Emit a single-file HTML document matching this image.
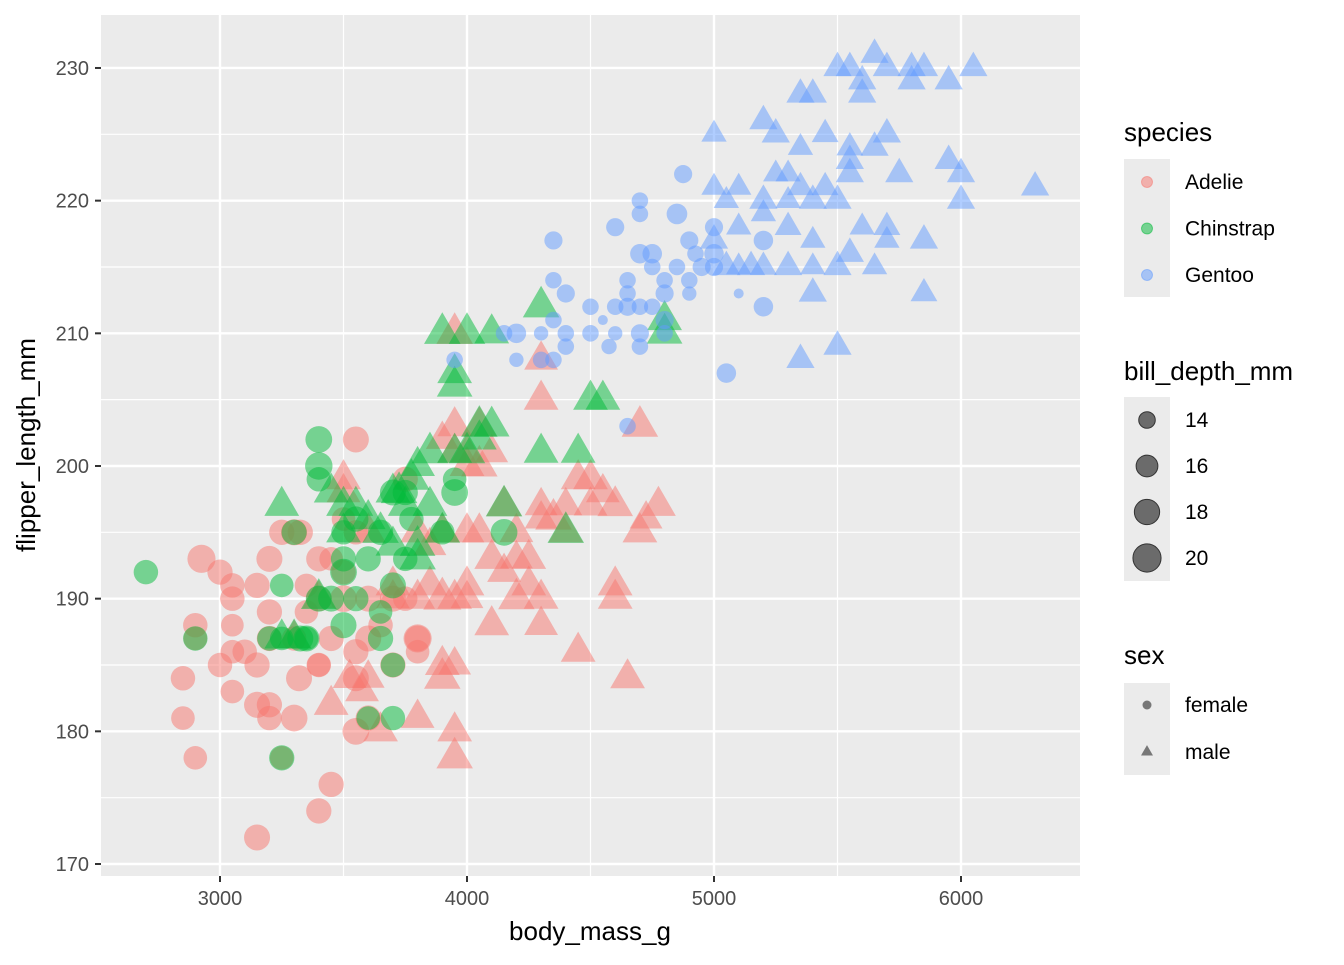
<!DOCTYPE html>
<html><head><meta charset="utf-8"><style>
body{margin:0;background:#fff;font-family:"Liberation Sans",Arial,sans-serif}
svg text{font-family:"Liberation Sans",Arial,sans-serif}
</style></head><body>
<svg id="chart" width="1344" height="960" xmlns="http://www.w3.org/2000/svg">
<rect width="1344" height="960" fill="#fff"/>
<rect x="101" y="15" width="979" height="861" fill="#ebebeb"/>
<g id="grid"></g>
<g id="pts"></g>
<g id="axes"></g>
<text x="590" y="940" font-size="26" text-anchor="middle">body_mass_g</text>
<text transform="translate(35,445) rotate(-90)" font-size="26" text-anchor="middle">flipper_length_mm</text>
<g id="legend"></g>
</svg>
<script>
const xTicks=[3000,4000,5000,6000];
const yTicks=[170,180,190,200,210,220,230];
const speciesNames=["Adelie","Chinstrap","Gentoo"];
const speciesColors=["#F8766D","#00BA38","#619CFF"];
const adelieFemale=[[3150,172,18.5],[3400,174,18],[3450,176,18],[2900,178,17],[3250,178,17],[2850,181,17],[3200,181,17.5],[3300,181,19],[2850,184,17.5],[3320,184,18.5],[3050,183,17],[3150,182,18.5],[3200,182,18],[3000,185,17.5],[3150,185,18],[3400,185,17.5],[3550,180,19],[3600,181,18],[3100,186,17.5],[3050,186,17],[3200,187,18],[3300,187,17.5],[2900,188,17.5],[3050,188,16.5],[3200,189,18],[3350,189,17],[3400,190,18],[3500,190,19],[3600,190,18.5],[3700,190,18.5],[3050,190,17.5],[3050,191,17.5],[3150,191,18],[3350,191,17],[3500,192,17.5],[3000,192,18],[2925,193,20],[3200,193,18.5],[3400,193,18],[3450,193,17],[3300,195,18.5],[3250,195,18],[3550,195,17.5],[3500,196,17],[3800,187,18.5],[3800,186,17],[3700,185,18],[3400,185,17],[3550,202,18.5],[3550,186,18],[3600,187,18.5],[3650,188,17.5],[3750,190,17.5],[3800,187,20],[3450,187,18],[3550,184,18.5],[2900,187,17],[3325,195,18],[3750,199,18]];
const adelieMale=[[3950,178,20],[3950,180,19],[3650,180,19],[3800,181,18.5],[3450,182,19],[3575,183,18.5],[3525,184,18.5],[3900,184,20],[3900,185,19],[3950,185,18],[4450,186,19],[4650,184,19],[4100,188,19],[4300,188,18.5],[4300,190,19],[4200,190,20],[4250,191,19],[4600,190,19],[4600,191,19],[3900,190,21],[3950,190,19],[3850,191,19],[4000,190,18],[3800,190,19],[3700,190,18.5],[4000,191,19],[4150,192,18.5],[4100,193,19],[4250,193,19],[4200,195,18.5],[4050,195,19],[4400,195,19],[4300,196,18],[4350,196,20],[4700,195,19],[4725,196,18],[4775,197,19],[4600,197,19.5],[4550,198,18.5],[4500,199,19],[4450,199,19],[4500,197,18.5],[4400,197,18],[4300,197,18],[4150,197,19.5],[4100,201,18],[4000,201,18],[3950,201,19],[3950,203,19],[3900,202,18],[4700,203,20],[4300,205,19],[4300,208,18.5],[4050,203,19],[3500,199,19],[3500,198,18.5],[3600,195,19],[3800,195,19],[3700,191,19],[3850,194,18],[4000,195,19],[4000,200,19],[4050,200,20],[3600,184,18],[3300,187,18],[3400,190,18],[3950,210,20],[3900,195,19],[4200,193,18]];
const chinstrapFemale=[[2700,192,17.5],[3250,178,18],[3600,181,17],[3700,181,17.5],[3250,187,17],[3350,187,17],[3200,187,17.5],[3650,187,18],[2900,187,17.5],[3700,185,17.5],[3250,191,17],[3400,190,18.5],[3450,190,18.5],[3500,188,18.5],[3550,190,18],[3650,189,17],[3500,192,19],[3600,193,18],[3650,195,18],[3500,195,17.5],[3400,199,17.5],[3400,200,19.5],[3400,202,19],[3700,198,18.5],[3750,198,18],[3775,196,17.5],[3700,191,18.5],[3300,195,18],[3325,187,18.5],[3350,187,18.5],[3950,199,17],[3950,198,19],[3900,195,17.5],[3550,196,18],[4150,195,19],[3500,193,18],[3750,193,17.5]];
const chinstrapMale=[[3250,197,19],[3300,187,19],[3400,190,19.5],[3450,198,19],[3550,197,19],[3500,195,19],[3650,195,20],[3700,194,19],[3725,198,20],[3750,197,19],[3775,199,20],[3800,193,20],[3800,194,19.5],[3850,201,20],[3900,195,19.5],[3900,210,20],[3950,207,19],[3950,206,19.5],[4000,210,20],[4050,203,20],[4050,202,19],[4100,210,19],[4100,203,19.5],[4150,197,20],[4300,212,20],[4300,201,19],[4400,195,20],[4450,201,19],[4500,205,19],[4550,205,19],[4800,210,19.5],[4800,211,19],[3800,200,19],[3600,196,19],[3700,198,19],[3250,187,19],[4000,201,20],[3950,201,19],[3850,197,19],[3500,197,19]];
const gentooFemale=[[4650,203,14],[3950,208,14],[4300,208,14],[4350,208,14],[4200,210,15],[4150,210,14],[4200,208,13.5],[4300,210,13.5],[4400,210,14],[4500,210,14],[4575,209,13.7],[4600,210,13.5],[4700,210,14.5],[4800,210,14],[4350,211,14],[4550,211,13.1],[4500,212,14],[4400,213,14.5],[4600,212,14],[4650,212,14.5],[4700,212,14],[4750,212,14],[4800,211,14.5],[4350,214,14],[4350,217,14.5],[4650,214,14],[4800,213,14.5],[4750,215,14],[4850,215,14],[4900,214,14],[4900,213,13.5],[4950,215,14.5],[5000,215,14.5],[5000,216,15],[5100,213,13],[5200,212,15],[5200,217,15],[4700,216,15],[4750,216,15],[4850,219,15.5],[5000,218,14.5],[4600,218,14.5],[4700,219,14],[4700,220,14],[4875,222,14.5],[4900,217,14.5],[4925,216,14],[4800,214,14],[4650,213,14],[5050,207,15],[4400,209,14],[4700,209,14]];
const gentooMale=[[5350,208,16],[5500,209,16],[5850,213,15.5],[5400,213,16],[5050,215,16],[5100,215,15],[5150,215,16],[5300,215,16],[5400,215,15],[5500,215,16],[5650,215,15],[5550,216,16],[5700,218,15.5],[5850,217,16],[6000,220,16],[6000,222,16],[5950,223,16],[5750,222,16],[5500,220,16],[5400,220,16],[5350,221,15.5],[5250,222,15],[5300,222,15],[5100,221,15],[5000,221,15],[5050,220,15],[5200,220,16],[5300,220,15],[5300,218,15.5],[5200,219,15],[5100,218,15],[5450,221,15.5],[5550,222,16],[5550,223,16],[5550,224,15.5],[5650,224,16],[5700,225,16],[5450,225,15.5],[5350,224,15],[5250,225,16],[5200,226,16],[5000,225,15],[5400,228,16],[5350,228,16],[5600,228,16],[5600,229,16],[5550,230,16],[5500,230,16],[5650,231,16],[5700,230,16],[5800,230,16],[5850,230,16],[5950,229,16],[6050,230,16],[5800,229,16],[6300,221,16],[5700,217,15],[5400,217,15],[5600,218,15],[5000,217,16],[5200,215,15.5]];
const sizeBreaks=[14,16,18,20];

const NS="http://www.w3.org/2000/svg";
function X(v){return 220+(v-3000)*0.247;}
function Y(v){return 864-(v-170)*13.267;}
function R(d){return 5+10*Math.sqrt(Math.max(0,d-13.1)/8.4);}
function mk(tag,attrs,parent){const e=document.createElementNS(NS,tag);for(const k in attrs)e.setAttribute(k,attrs[k]);parent.appendChild(e);return e;}
const grid=document.getElementById('grid'),axes=document.getElementById('axes'),pts=document.getElementById('pts'),leg=document.getElementById('legend');
[2500,3500,4500,5500].forEach(v=>{const l=mk('line',{x1:X(v),x2:X(v),y1:15,y2:876,stroke:'#fff','stroke-width':1.2},grid);});
[175,185,195,205,215,225].forEach(v=>{const l=mk('line',{x1:101,x2:1080,y1:Y(v),y2:Y(v),stroke:'#fff','stroke-width':1.2},grid);});
xTicks.forEach(v=>{const l=mk('line',{x1:X(v),x2:X(v),y1:15,y2:876,stroke:'#fff','stroke-width':2.4},grid);
 const t=mk('line',{x1:X(v),x2:X(v),y1:876,y2:882,stroke:'#333','stroke-width':2},axes);
 const tx=mk('text',{x:X(v),y:905,'font-size':20,fill:'#4d4d4d','text-anchor':'middle'},axes);tx.textContent=v;});
yTicks.forEach(v=>{const l=mk('line',{x1:101,x2:1080,y1:Y(v),y2:Y(v),stroke:'#fff','stroke-width':2.4},grid);
 const t=mk('line',{x1:95,x2:101,y1:Y(v),y2:Y(v),stroke:'#333','stroke-width':2},axes);
 const tx=mk('text',{x:89,y:Y(v)+7,'font-size':20,fill:'#4d4d4d','text-anchor':'end'},axes);tx.textContent=v;});
function tri(cx,cy,r){const s=r*1.5;return `${cx},${cy-s} ${cx+s*0.866},${cy+s*0.5} ${cx-s*0.866},${cy+s*0.5}`;}
function draw(arr,color,shape){arr.forEach(p=>{const cx=X(p[0]),cy=Y(p[1]),r=R(p[2]);let e;
 if(shape==='c')e=mk('circle',{cx:cx,cy:cy,r:r,fill:color,'fill-opacity':0.5},pts);
 else e=mk('polygon',{points:tri(cx,cy,r),fill:color,'fill-opacity':0.5},pts);
 });}
draw(adelieFemale,speciesColors[0],'c');draw(adelieMale,speciesColors[0],'t');
draw(chinstrapFemale,speciesColors[1],'c');draw(chinstrapMale,speciesColors[1],'t');
draw(gentooFemale,speciesColors[2],'c');draw(gentooMale,speciesColors[2],'t');
function title(txt,y){const t=mk('text',{x:1124,y:y,'font-size':26},leg);t.textContent=txt;}
function label(txt,y){const t=mk('text',{x:1185,y:y+7,'font-size':21},leg);t.textContent=txt;}
function keybg(y,h){const r=mk('rect',{x:1124,y:y,width:46,height:h,fill:'#ebebeb'},leg);}
title('species',141);keybg(159,138);
speciesNames.forEach((n,i)=>{const y=182+i*46.5;const c=mk('circle',{cx:1147,cy:y,r:5.5,fill:speciesColors[i],'fill-opacity':0.5,stroke:speciesColors[i],'stroke-opacity':0.5},leg);label(n,y);});
title('bill_depth_mm',380);keybg(397,184);
sizeBreaks.forEach((b,i)=>{const y=420+i*46;const c=mk('circle',{cx:1147,cy:y,r:R(b),fill:'#6b6b6b',stroke:'#333','stroke-width':1},leg);label(b,y);});
title('sex',664);keybg(683,92);
{const c=mk('circle',{cx:1147,cy:705,r:4.5,fill:'#777'},leg);label('female',705);
 const t=mk('polygon',{points:tri(1147,752,4.6),fill:'#777'},leg);label('male',752);}
</script>
</body></html>
